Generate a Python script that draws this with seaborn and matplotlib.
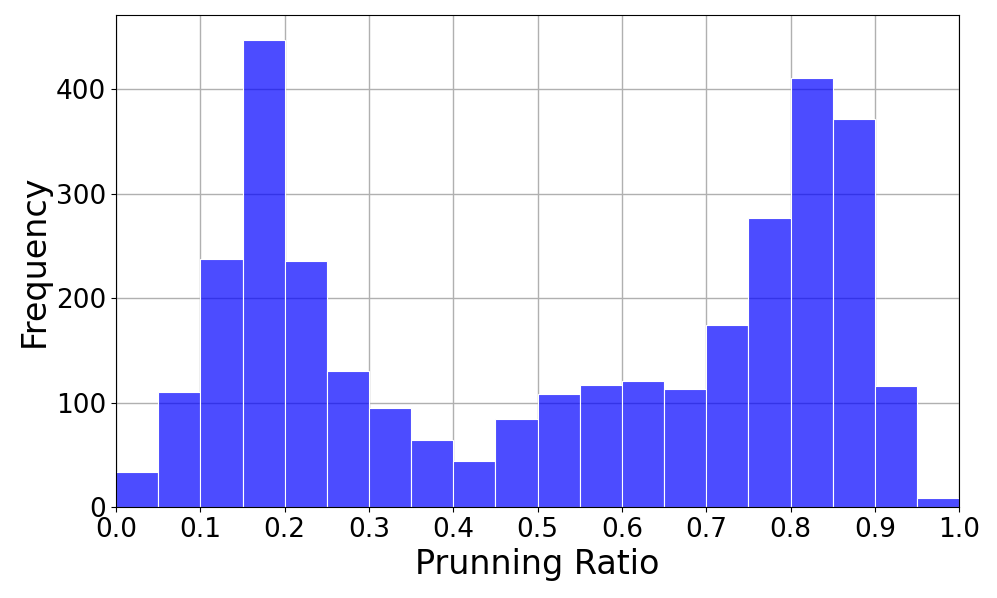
import numpy as np
import pandas as pd
import matplotlib
matplotlib.use("Agg")
import matplotlib.pyplot as plt
import seaborn as sns

# histogram bins (20 bins on [0, 1]) and counts
n_bins = 20
bin_range = (0.0, 1.0)
counts = [34, 110, 237, 447, 236, 130, 95, 64, 44, 84,
          108, 117, 121, 113, 174, 277, 411, 371, 116, 9]
x_ticks = [0.0, 0.1, 0.2, 0.3, 0.4, 0.5, 0.6, 0.7, 0.8, 0.9, 1.0]
y_ticks = [0, 100, 200, 300, 400]

edges = np.linspace(bin_range[0], bin_range[1], n_bins + 1)
df = pd.DataFrame({
    "ratio": (edges[:-1] + edges[1:]) / 2,
    "count": counts,
})

fig, ax = plt.subplots(figsize=(9.97, 5.98), dpi=100)
sns.histplot(data=df, x="ratio", weights="count", bins=n_bins, binrange=bin_range,
             color="blue", alpha=0.7, edgecolor="white", linewidth=0.8, ax=ax)

ax.set_xlim(0, 1)
ax.set_ylim(0, 471)
ax.set_xticks(x_ticks)
ax.set_yticks(y_ticks)
ax.grid(True, color="#b0b0b0", linewidth=1)
ax.set_axisbelow(True)
ax.tick_params(labelsize=19)
ax.set_xlabel("Prunning Ratio", fontsize=24)
ax.set_ylabel("Frequency", fontsize=24)

fig.subplots_adjust(left=0.1164, right=0.962, top=0.975, bottom=0.152)
fig.savefig("out.png", dpi=100)
